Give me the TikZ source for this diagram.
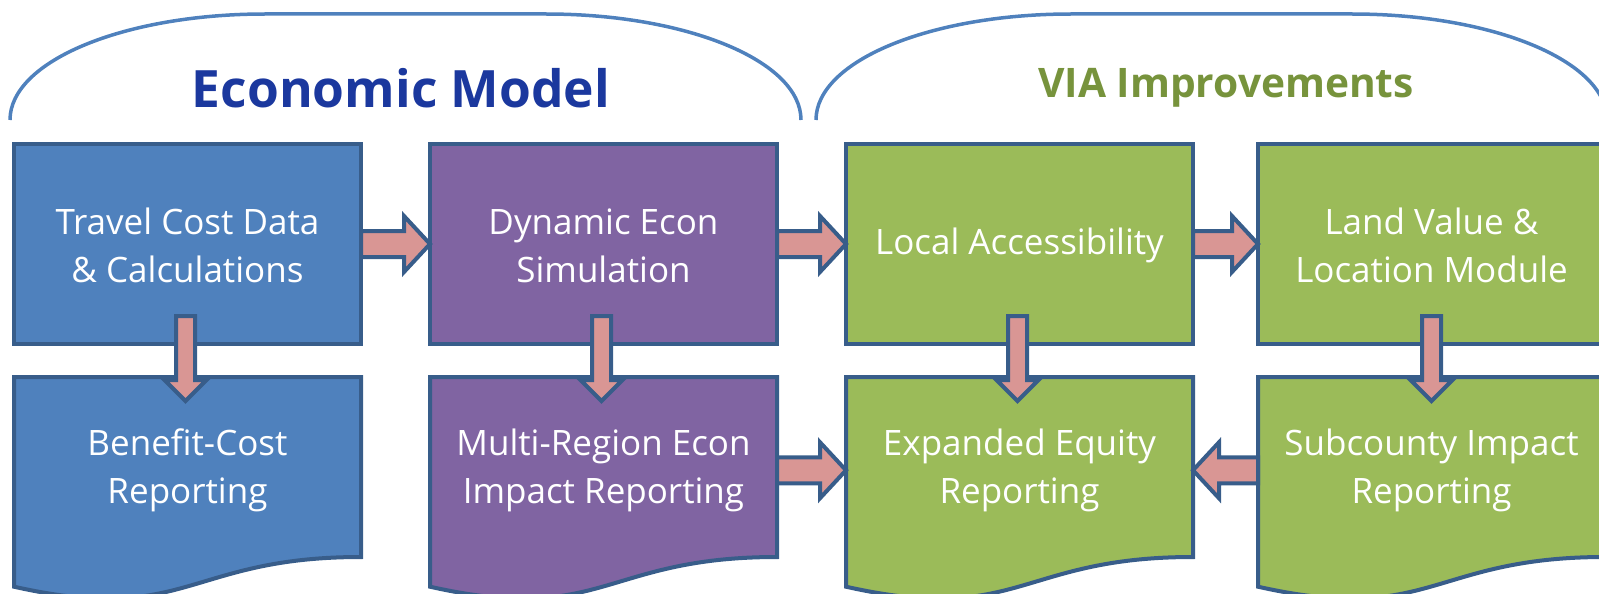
\documentclass[tikz,border=0pt]{standalone}
\usepackage{fontspec}
\setmainfont{Open Sans}
\usetikzlibrary{calc}
\definecolor{bluef}{HTML}{4F81BD}
\definecolor{purplef}{HTML}{8064A2}
\definecolor{greenf}{HTML}{9BBB59}
\definecolor{edge}{HTML}{385D8A}
\definecolor{pinkf}{HTML}{D99694}
\definecolor{titleblue}{HTML}{1B389E}
\definecolor{titlegreen}{HTML}{77933C}
\tikzset{
  bracketline/.style={draw=bluef, line width=3.5pt},
  box/.style={draw=edge, line width=4pt, minimum width=347pt, minimum height=200pt, inner sep=0pt, outer sep=0pt},
  docnode/.style={minimum width=347pt, minimum height=224.5pt, inner sep=0pt, outer sep=0pt},
  outline/.style={draw=edge, line width=4pt},
  txt/.style={text=white, align=center, font=\fontsize{35}{48}\selectfont},
  barrow/.style={draw=edge, fill=pinkf, line width=4pt, line join=miter},
}
\newcommand\docpath[2]{%
  \draw[outline, fill=#2] (#1.north west) -- (#1.north east) -- ($(#1.north east)+(0,180)$)
    .. controls ($(#1.north)+(0,180)$) and ($(#1.north)+(0,248.6)$) .. ($(#1.north west)+(0,209.7)$) -- cycle;}
\newcommand\blockarrow[5]{%
  \coordinate (hb) at ($(#2)!#5!(#1)$);
  \draw[barrow] ($(#1)!#3!90:(#2)$) -- ($(hb)!#3!-90:(#1)$) -- ($(hb)!#4!-90:(#1)$) -- (#2)
    -- ($(hb)!#4!90:(#1)$) -- ($(hb)!#3!90:(#1)$) -- ($(#1)!#3!-90:(#2)$) -- cycle;}
\begin{document}
\begin{tikzpicture}[x=1pt, y=-1pt]
\useasboundingbox (0,0) rectangle (1599,594);
\clip (0,0) rectangle (1599,594);
% brackets
\draw[bracketline] (10,120) .. controls (10,61) and (124.2,14) .. (265,14) -- (546,14)
  .. controls (686.8,14) and (801,61) .. (801,120);
\draw[bracketline] (816,120) .. controls (816,61) and (930.2,14) .. (1071,14) -- (1352,14)
  .. controls (1492.8,14) and (1607,61) .. (1607,120);
\node[anchor=base, text=titleblue, font=\bfseries\fontsize{51.5}{60}\selectfont] (econ) at (401,107) {Economic Model};
\node[anchor=base, text=titlegreen, font=\bfseries\fontsize{40.7}{48}\selectfont] (via) at (1226,97) {VIA Improvements};
% top row
\node[box, fill=bluef] (A) at (187.5,244) {};
\node[box, fill=purplef] (B) at (603.5,244) {};
\node[box, fill=greenf] (C) at (1019.5,244) {};
\node[box, fill=greenf] (D) at (1431.5,244) {};
\node[txt] (At) at ($(A.center)+(0,1.5)$) {Travel Cost Data\\\& Calculations};
\node[txt] (Bt) at ($(B.center)+(0,1.5)$) {Dynamic Econ\\Simulation};
\node[txt] (Ct) at ($(C.center)+(0,1.5)$) {Local Accessibility};
\node[txt] (Dt) at ($(D.center)+(0,1.5)$) {Land Value \&\\Location Module};
% bottom row
\node[docnode] (E) at (187.5,489.25) {};
\node[docnode] (F) at (603.5,489.25) {};
\node[docnode] (G) at (1019.5,489.25) {};
\node[docnode] (H) at (1431.5,489.25) {};
\docpath{E}{bluef}
\docpath{F}{purplef}
\docpath{G}{greenf}
\docpath{H}{greenf}
\node[txt] (Et) at ($(E.center)+(0,-19)$) {Benefit-Cost\\Reporting};
\node[txt] (Ft) at ($(F.center)+(0,-19)$) {Multi-Region Econ\\Impact Reporting};
\node[txt] (Gt) at ($(G.center)+(0,-19)$) {Expanded Equity\\Reporting};
\node[txt] (Ht) at ($(H.center)+(0,-19)$) {Subcounty Impact\\Reporting};
% horizontal arrows
\blockarrow{A.east}{B.west}{13pt}{28pt}{26pt}
\blockarrow{B.east}{C.west}{13pt}{28pt}{26pt}
\blockarrow{C.east}{D.west}{13pt}{28pt}{26pt}
\coordinate (fgT) at ($(F.east)+(0,-19)$);
\coordinate (fgH) at ($(G.west)+(0,-19)$);
\blockarrow{fgT}{fgH}{13pt}{28pt}{26pt}
\coordinate (hgT) at ($(H.west)+(0,-19)$);
\coordinate (hgH) at ($(G.east)+(0,-19)$);
\blockarrow{hgT}{hgH}{13pt}{28pt}{26pt}
% vertical arrows
\coordinate (aeT) at ($(A.south)+(-2,-28)$);
\coordinate (aeH) at ($(E.north)+(-2,24)$);
\blockarrow{aeT}{aeH}{9.5pt}{21pt}{21pt}
\coordinate (bfT) at ($(B.south)+(-2,-28)$);
\coordinate (bfH) at ($(F.north)+(-2,24)$);
\blockarrow{bfT}{bfH}{9.5pt}{21pt}{21pt}
\coordinate (cgT) at ($(C.south)+(-2,-28)$);
\coordinate (cgH) at ($(G.north)+(-2,24)$);
\blockarrow{cgT}{cgH}{9.5pt}{21pt}{21pt}
\coordinate (dhT) at ($(D.south)+(0,-28)$);
\coordinate (dhH) at ($(H.north)+(0,24)$);
\blockarrow{dhT}{dhH}{9.5pt}{21pt}{21pt}
\end{tikzpicture}
\end{document}
